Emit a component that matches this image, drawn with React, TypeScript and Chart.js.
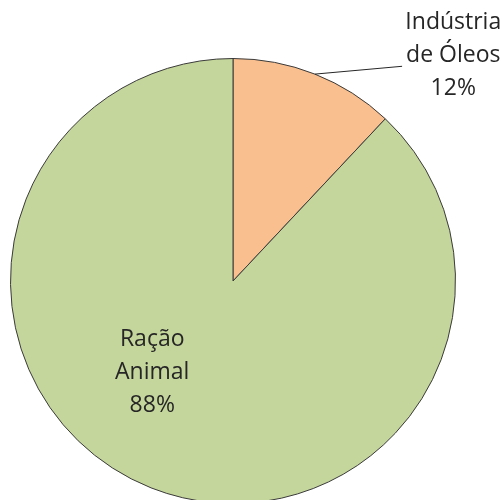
import React, { useEffect, useRef } from "react";
import { Chart, registerables } from "chart.js";

Chart.register(...registerables);

const categories = ["Indústria de Óleos", "Ração Animal"];
const values = [12, 88];
const labelLines = [["Indústria", "de Óleos", "12%"], ["Ração", "Animal", "88%"]];
const colors = ["#F9BF8F", "#C4D69B"];

const labelPlugin = {
  id: "customLabels",
  afterDatasetsDraw(chart: any) {
    const meta = chart.getDatasetMeta(0);
    const ctx = chart.ctx;
    const a0 = meta.data[0];
    const cx = a0.x, cy = a0.y, r = a0.outerRadius;
    ctx.save();
    ctx.font = "23px 'Open Sans', sans-serif";
    ctx.fillStyle = "#262626";
    ctx.textAlign = "center";
    ctx.textBaseline = "middle";
    const lh = 33;
    // outer label for slice 0
    const mid = (a0.startAngle + a0.endAngle) / 2;
    const sx = cx + r * Math.cos(mid);
    const sy = cy + r * Math.sin(mid);
    ctx.strokeStyle = "#262626";
    ctx.lineWidth = 1;
    ctx.beginPath();
    ctx.moveTo(sx, sy);
    ctx.lineTo(cx + 0.76 * r, cy - 0.965 * r);
    ctx.stroke();
    const tx = cx + 0.99 * r, ty = cy - 1.013 * r;
    labelLines[0].forEach((t, i) => ctx.fillText(t, tx, ty + (i - 1) * lh));
    // inner label for slice 1
    const ix = cx - 0.363 * r, iy = cy + 0.413 * r;
    labelLines[1].forEach((t, i) => ctx.fillText(t, ix, iy + (i - 1) * lh));
    ctx.restore();
  },
};

export default function App() {
  const ref = useRef<HTMLCanvasElement>(null);
  useEffect(() => {
    if (!ref.current) return;
    const chart = new Chart(ref.current, {
      type: "pie",
      data: {
        labels: categories,
        datasets: [
          {
            data: values,
            backgroundColor: colors,
            borderColor: "#3a3a3a",
            borderWidth: 1,
          },
        ],
      },
      options: {
        responsive: false,
        animation: false,
        layout: { padding: { left: 10, right: 46, top: 58, bottom: 16 } },
        plugins: { legend: { display: false }, tooltip: { enabled: false } },
      },
      plugins: [labelPlugin],
    });
    return () => chart.destroy();
  }, []);
  return (
    <div style={{ position: "fixed", left: 0, top: 0, width: 502, height: 500, overflow: "hidden", background: "#fff" }}>
      <canvas ref={ref} width={502} height={520} style={{ display: "block" }} />
    </div>
  );
}
